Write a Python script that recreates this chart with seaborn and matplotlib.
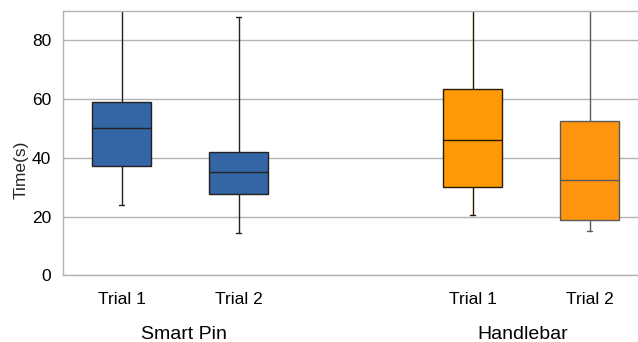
import numpy as np
import pandas as pd
import matplotlib
matplotlib.use("Agg")
import matplotlib.pyplot as plt
import seaborn as sns

# Five-number summaries (min, Q1, median, Q3, max) in seconds
smart_pin_trial1 = [23.9, 37.3, 50.0, 59.1, 105.0]
smart_pin_trial2 = [14.3, 27.7, 35.3, 42.1, 87.8]
handlebar_trial1 = [20.5, 30.0, 46.1, 63.3, 105.0]
handlebar_trial2 = [15.1, 18.7, 32.4, 52.5, 105.0]

slots = ["SP1", "SP2", "gap", "HB1", "HB2"]
tick_labels = ["Trial 1", "Trial 2", "", "Trial 1", "Trial 2"]
groups = ["Smart Pin", "Handlebar"]

series = {
    "SP1": smart_pin_trial1,
    "SP2": smart_pin_trial2,
    "HB1": handlebar_trial1,
    "HB2": handlebar_trial2,
}
fills = {"SP1": "#3465a4", "SP2": "#3465a4", "HB1": "#ff9a06", "HB2": "#ff950e"}
edges = {"SP1": "#222222", "SP2": "#222222", "HB1": "#2a1a00", "HB2": "#5a5a5a"}

df = pd.DataFrame(
    [(k, v) for k, vals in series.items() for v in vals], columns=["slot", "time"]
)

sns.set_style("white")
plt.rcParams["font.family"] = ["Liberation Sans", "DejaVu Sans"]

W, H = 638, 342
fig = plt.figure(figsize=(W / 100, H / 100), dpi=100)
ax = fig.add_axes([63 / W, 66.7 / H, 585 / W, 264.3 / H])

for key in series:
    sns.boxplot(
        data=df[df["slot"] == key], x="slot", y="time", order=slots,
        color=fills[key], linecolor=edges[key], linewidth=1.0,
        width=0.5, whis=(0, 100), saturation=1, capwidths=0.05,
        showfliers=False, ax=ax,
    )

ax.set_ylim(0, 90)
ax.set_xlim(-0.5, 4.5)
ax.set_yticks([0, 20, 40, 60, 80])
ax.set_xticks(range(len(slots)))
ax.set_xticklabels(tick_labels)
ax.set_xticks(np.arange(-0.5, 5, 1), minor=True)
ax.tick_params(axis="x", which="major", length=0, pad=12, labelsize=12.5,
               labelcolor="#000000")
ax.tick_params(axis="x", which="minor", length=4, width=1, color="#b3b3b3")
ax.tick_params(axis="y", length=5, width=1, color="#b3b3b3", pad=3.5,
               labelsize=12.5, labelcolor="#000000")
ax.set_xlabel("")
ax.set_ylabel("Time(s)", fontsize=12.5)
ax.yaxis.set_label_coords(-0.058, 0.398)

ax.grid(axis="y", color="#b3b3b3", linewidth=1)
ax.set_axisbelow(True)
for side in ["left", "bottom", "top"]:
    ax.spines[side].set_visible(True)
    ax.spines[side].set_color("#b3b3b3")
    ax.spines[side].set_linewidth(1)
ax.spines["right"].set_visible(False)

# Group captions under the trial labels
for name, xpos in zip(groups, [0.53, 3.43]):
    ax.text(xpos, -0.2225, name, transform=ax.get_xaxis_transform(),
            ha="center", va="center", fontsize=14, color="#000000")

fig.savefig("out.png", dpi=100)
